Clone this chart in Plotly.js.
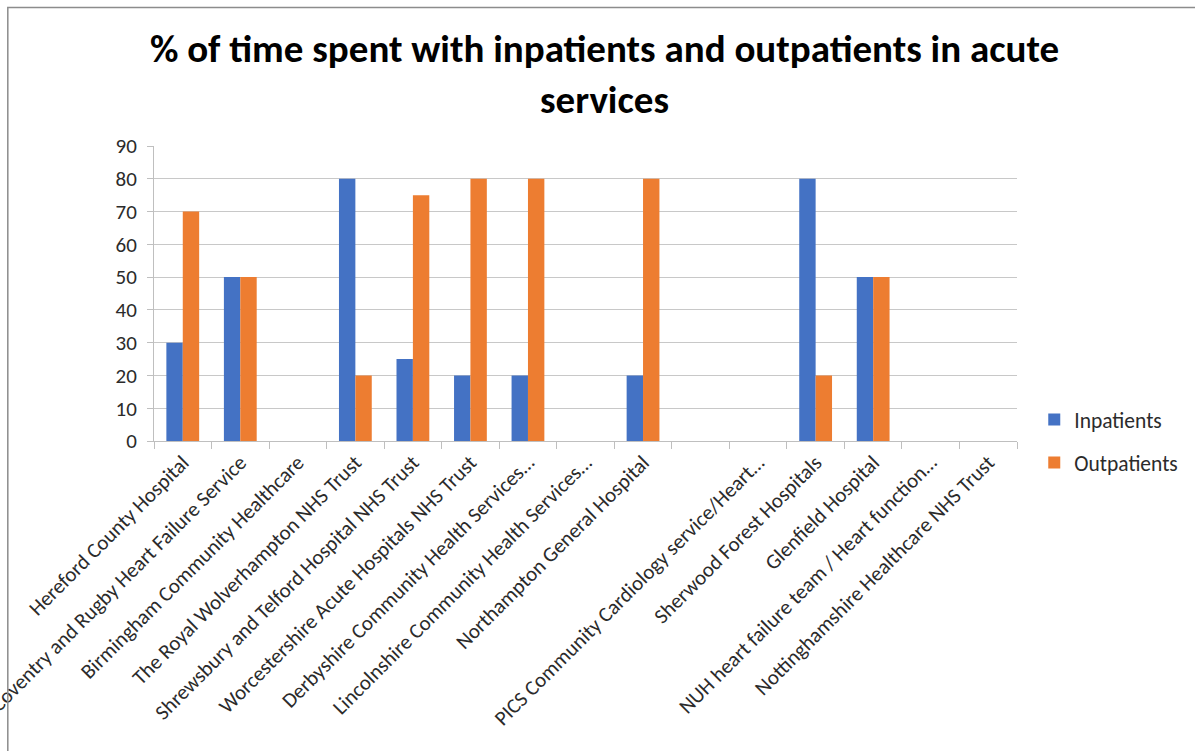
<!DOCTYPE html>
<html>
<head>
<meta charset="utf-8">
<script src="https://cdn.plot.ly/plotly-3.0.1.min.js"></script>
<style>
html,body{margin:0;padding:0;background:#fff;}
#chart{width:1195px;height:751px;}
</style>
</head>
<body>
<div id="chart"></div>
<script>
const categories = [
  "Hereford County Hospital",
  "Coventry and Rugby Heart Failure Service",
  "Birmingham Community Healthcare",
  "The Royal Wolverhampton NHS Trust",
  "Shrewsbury and Telford Hospital NHS Trust",
  "Worcestershire Acute Hospitals NHS Trust",
  "Derbyshire Community Health Services…",
  "Lincolnshire Community Health Services…",
  "Northampton General Hospital",
  " ",
  "PICS Community Cardiology service/Heart…",
  "Sherwood Forest Hospitals",
  "Glenfield Hospital",
  "NUH heart failure team / Heart function…",
  "Nottinghamshire Healthcare NHS Trust"
];
const inpatients  = [30, 50, null, 80, 25, 20, 20, null, 20, null, null, 80, 50, null, null];
const outpatients = [70, 50, null, 20, 75, 80, 80, null, 80, null, null, 20, 50, null, null];
const yTicks = [0, 10, 20, 30, 40, 50, 60, 70, 80, 90];

const baseFont = "Carlito, Lato, 'Open Sans', sans-serif";
const tickFont = {family: baseFont, size: 21, color: "#2b2b2b"};

const traces = [
  {type: "bar", name: "Inpatients", x: categories, y: inpatients,
   marker: {color: "#4472C4"}, legendgroup: "a", hoverinfo: "x+y"},
  {type: "bar", name: "Outpatients", x: categories, y: outpatients,
   marker: {color: "#ED7D31"}, legendgroup: "b", hoverinfo: "x+y"}
];

const layout = {
  width: 1195, height: 751,
  paper_bgcolor: "#ffffff", plot_bgcolor: "#ffffff",
  margin: {l: 154, r: 173, t: 146, b: 310, pad: 0},
  barmode: "group", bargap: 0.43, bargroupgap: 0,
  title: {
    text: "% of time spent with inpatients and outpatients in acute<br>services",
    font: {family: baseFont, size: 39, color: "#000000", weight: "bold"},
    x: 0.522, xanchor: "center", xref: "paper",
    y: 1 - 62/751, yanchor: "middle", yref: "container"
  },
  xaxis: {
    type: "category", tickangle: -45, tickfont: tickFont,
    showline: true, linecolor: "#bfbfbf", linewidth: 1,
    ticks: "outside", ticklen: 7, tickcolor: "#bfbfbf", tickson: "boundaries",
    showgrid: false, automargin: false, fixedrange: true
  },
  yaxis: {
    range: [0, 90], tickvals: yTicks, tickfont: tickFont,
    showline: true, linecolor: "#bfbfbf", linewidth: 1,
    ticks: "outside", ticklen: 6, tickcolor: "#bfbfbf", ticklabelstandoff: 6,
    showgrid: true, gridcolor: "#c8c8c8", gridwidth: 1,
    zeroline: false, automargin: false, fixedrange: true
  },
  showlegend: true,
  legend: {
    x: 1.02, xanchor: "left", y: 0.0, yanchor: "middle",
    font: {family: baseFont, size: 21.5, color: "#2b2b2b"},
    tracegroupgap: 12, traceorder: "grouped", itemwidth: 30
  },
  shapes: [{
    type: "path", xref: "paper", yref: "paper",
    path: "M -0.1694,-1.2 L -0.1694,1.4695 L 1.3,1.4695",
    line: {color: "#8c8c8c", width: 1.5}
  }]
};

Plotly.newPlot("chart", traces, layout, {displayModeBar: false, staticPlot: true});
</script>
</body>
</html>
